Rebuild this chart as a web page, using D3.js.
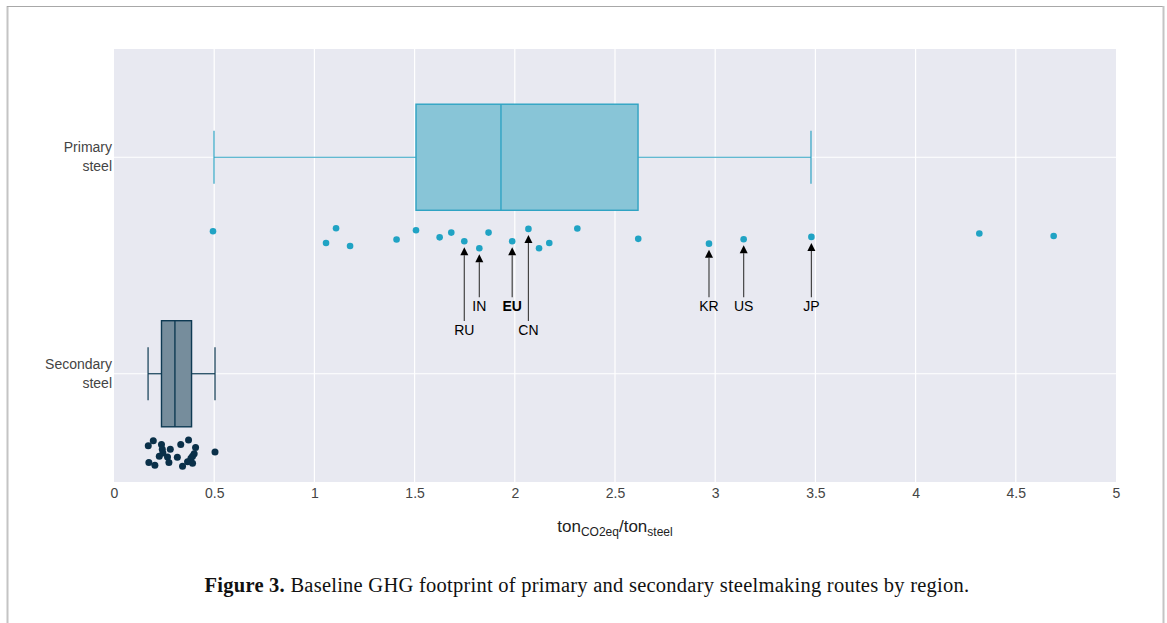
<!DOCTYPE html>
<html>
<head>
<meta charset="utf-8">
<script src="https://cdn.jsdelivr.net/npm/d3@7"></script>
<style>
  body { margin: 0; background: #fff; }
  svg { display: block; }
</style>
</head>
<body>
<svg id="chart" width="1167" height="623"></svg>
<script>
// ---------------- data ----------------
const categories = ["Primary steel", "Secondary steel"];
const categoryLines = [["Primary", "steel"], ["Secondary", "steel"]];

// box statistics: [lower whisker, Q1, median, Q3, upper whisker]
const primaryBox = [0.499, 1.507, 1.931, 2.615, 3.478];
const secondaryBox = [0.170, 0.237, 0.304, 0.387, 0.504];

// individual points (tCO2eq / t steel) and their vertical jitter (fraction of band below centre)
const primaryValues = [0.494, 1.058, 1.108, 1.178, 1.41, 1.507, 1.625, 1.683, 1.748, 1.823, 1.869,
                       1.987, 2.068, 2.121, 2.172, 2.312, 2.616, 2.969, 3.142, 3.48, 4.318, 4.689];
const primaryJitter = [0.342, 0.396, 0.328, 0.410, 0.380, 0.337, 0.370, 0.348, 0.388, 0.420, 0.348,
                       0.388, 0.331, 0.420, 0.396, 0.329, 0.377, 0.399, 0.379, 0.368, 0.352, 0.364];

const secondaryValues = [0.171, 0.196, 0.237, 0.241, 0.226, 0.244, 0.267, 0.281, 0.274, 0.333, 0.372,
                         0.407, 0.400, 0.392, 0.384, 0.367, 0.392, 0.342, 0.316, 0.204, 0.174, 0.504];
const secondaryJitter = [0.332, 0.309, 0.327, 0.349, 0.381, 0.366, 0.384, 0.349, 0.410, 0.327, 0.306,
                         0.341, 0.370, 0.381, 0.390, 0.406, 0.413, 0.427, 0.386, 0.423, 0.410, 0.361];

// annotated regions: label, index into primaryValues, label row (0 = upper, 1 = lower), bold
const annotLabels = ["RU", "IN", "EU", "CN", "KR", "US", "JP"];
const annotIndex = [8, 9, 11, 12, 17, 18, 19];
const annotRow = [1, 0, 0, 1, 0, 0, 0];
const annotBold = [false, false, true, false, false, false, false];

const xTicks = [0, 0.5, 1, 1.5, 2, 2.5, 3, 3.5, 4, 4.5, 5];

// ---------------- drawing ----------------
const svg = d3.select("#chart");
const W = 1167, H = 623;
const plot = { left: 114, right: 1116, top: 49, bottom: 482 };

// figure frame
svg.append("line").attr("x1", 7.5).attr("x2", 7.5).attr("y1", 6).attr("y2", H)
  .attr("stroke", "#c4c4c4").attr("stroke-width", 2);
svg.append("line").attr("x1", 7).attr("x2", 1164).attr("y1", 6.5).attr("y2", 6.5)
  .attr("stroke", "#a8a8a8").attr("stroke-width", 1);
svg.append("line").attr("x1", 1163.5).attr("x2", 1163.5).attr("y1", 6).attr("y2", H)
  .attr("stroke", "#c4c4c4").attr("stroke-width", 2);

const x = d3.scaleLinear().domain([0, 5]).range([plot.left, plot.right]);
const y = d3.scaleBand().domain(categories).range([plot.top, plot.bottom]).padding(0);
const bw = y.bandwidth();
const yc = c => y(c) + bw / 2;

// background
svg.append("rect").attr("x", plot.left).attr("y", plot.top)
  .attr("width", plot.right - plot.left).attr("height", plot.bottom - plot.top)
  .attr("fill", "#e8e9f1");

// grid
const grid = svg.append("g");
grid.selectAll("line.v").data(xTicks.filter(t => t > 0 && t < 5)).join("line")
  .attr("x1", d => x(d)).attr("x2", d => x(d))
  .attr("y1", plot.top).attr("y2", plot.bottom)
  .attr("stroke", "#fff").attr("stroke-width", 1.2);
grid.selectAll("line.h").data(categories).join("line")
  .attr("x1", plot.left).attr("x2", plot.right)
  .attr("y1", d => yc(d)).attr("y2", d => yc(d))
  .attr("stroke", "#fff").attr("stroke-width", 1.2);

// x axis
const xAxis = d3.axisBottom(x).tickValues(xTicks).tickSize(0).tickPadding(6)
  .tickFormat(d => d3.format("~g")(d));
const gx = svg.append("g").attr("transform", `translate(0,${plot.bottom})`).call(xAxis);
gx.select(".domain").remove();
gx.selectAll("text").attr("font-family", "Liberation Sans, Arial, sans-serif")
  .attr("font-size", 14).attr("fill", "#444");

// x title
const xt = svg.append("text").attr("x", (plot.left + plot.right) / 2).attr("y", 532)
  .attr("text-anchor", "middle").attr("font-family", "Liberation Sans, Arial, sans-serif")
  .attr("font-size", 17).attr("fill", "#222");
xt.append("tspan").text("ton");
xt.append("tspan").attr("font-size", 12).attr("dy", 4).text("CO2eq");
xt.append("tspan").attr("dy", -4).text("/ton");
xt.append("tspan").attr("font-size", 12).attr("dy", 4).text("steel");

// y labels
categories.forEach((c, i) => {
  const t = svg.append("text").attr("text-anchor", "end")
    .attr("font-family", "Liberation Sans, Arial, sans-serif")
    .attr("font-size", 14).attr("fill", "#444");
  categoryLines[i].forEach((ln, j) => {
    t.append("tspan").attr("x", plot.left - 2).attr("y", yc(c) - 5 + j * 19).text(ln);
  });
});

// boxes
const boxes = [
  { cat: categories[0], s: primaryBox, fill: "#88c5d7", stroke: "#2fa3c3" },
  { cat: categories[1], s: secondaryBox, fill: "#768d9c", stroke: "#0e3a53" }
];
const boxH = bw * 0.49;
boxes.forEach(b => {
  const cy = yc(b.cat);
  const g = svg.append("g");
  g.append("line").attr("x1", x(b.s[0])).attr("x2", x(b.s[1])).attr("y1", cy).attr("y2", cy)
    .attr("stroke", b.stroke).attr("stroke-width", 1.2);
  g.append("line").attr("x1", x(b.s[3])).attr("x2", x(b.s[4])).attr("y1", cy).attr("y2", cy)
    .attr("stroke", b.stroke).attr("stroke-width", 1.2);
  [b.s[0], b.s[4]].forEach(v => {
    g.append("line").attr("x1", x(v)).attr("x2", x(v))
      .attr("y1", cy - boxH / 4).attr("y2", cy + boxH / 4)
      .attr("stroke", b.stroke).attr("stroke-width", 1.2);
  });
  g.append("rect").attr("x", x(b.s[1])).attr("y", cy - boxH / 2)
    .attr("width", x(b.s[3]) - x(b.s[1])).attr("height", boxH)
    .attr("fill", b.fill).attr("stroke", b.stroke).attr("stroke-width", 1.4);
  g.append("line").attr("x1", x(b.s[2])).attr("x2", x(b.s[2]))
    .attr("y1", cy - boxH / 2).attr("y2", cy + boxH / 2)
    .attr("stroke", b.stroke).attr("stroke-width", 1.4);
});

// points
const primaryPts = primaryValues.map((v, i) => ({ v, j: primaryJitter[i] }));
const secondaryPts = secondaryValues.map((v, i) => ({ v, j: secondaryJitter[i] }));
svg.append("g").selectAll("circle").data(primaryPts).join("circle")
  .attr("cx", d => x(d.v)).attr("cy", d => yc(categories[0]) + d.j * bw)
  .attr("r", 3.3).attr("fill", "#20a3c4");
svg.append("g").selectAll("circle").data(secondaryPts).join("circle")
  .attr("cx", d => x(d.v)).attr("cy", d => yc(categories[1]) + d.j * bw)
  .attr("r", 3.5).attr("fill", "#0a3049");

// annotations
const rowY = [yc(categories[0]) + bw * 0.688, yc(categories[0]) + bw * 0.798];
const ag = svg.append("g");
annotLabels.forEach((lab, i) => {
  const p = primaryPts[annotIndex[i]];
  const px = x(p.v), py = yc(categories[0]) + p.j * bw;
  const ly = rowY[annotRow[i]];
  const tip = py + 6;
  const base = tip + 8;
  ag.append("line").attr("x1", px).attr("x2", px).attr("y1", base).attr("y2", ly - 9)
    .attr("stroke", "#444").attr("stroke-width", 1.2);
  ag.append("path")
    .attr("d", `M${px},${tip} L${px - 4},${base} L${px + 4},${base} Z`)
    .attr("fill", "#000");
  ag.append("text").attr("x", px).attr("y", ly + 5).attr("text-anchor", "middle")
    .attr("font-family", "Liberation Sans, Arial, sans-serif").attr("font-size", 14)
    .attr("font-weight", annotBold[i] ? "bold" : "normal").attr("fill", "#000").text(lab);
});

// caption
const cap = svg.append("text").attr("x", 587).attr("y", 592).attr("text-anchor", "middle")
  .attr("font-family", "Liberation Serif, Times New Roman, serif").attr("font-size", 20.5)
  .attr("letter-spacing", 0.25).attr("fill", "#111");
cap.append("tspan").attr("font-weight", "bold").text("Figure 3.");
cap.append("tspan").text(" Baseline GHG footprint of primary and secondary steelmaking routes by region.");
</script>
</body>
</html>
